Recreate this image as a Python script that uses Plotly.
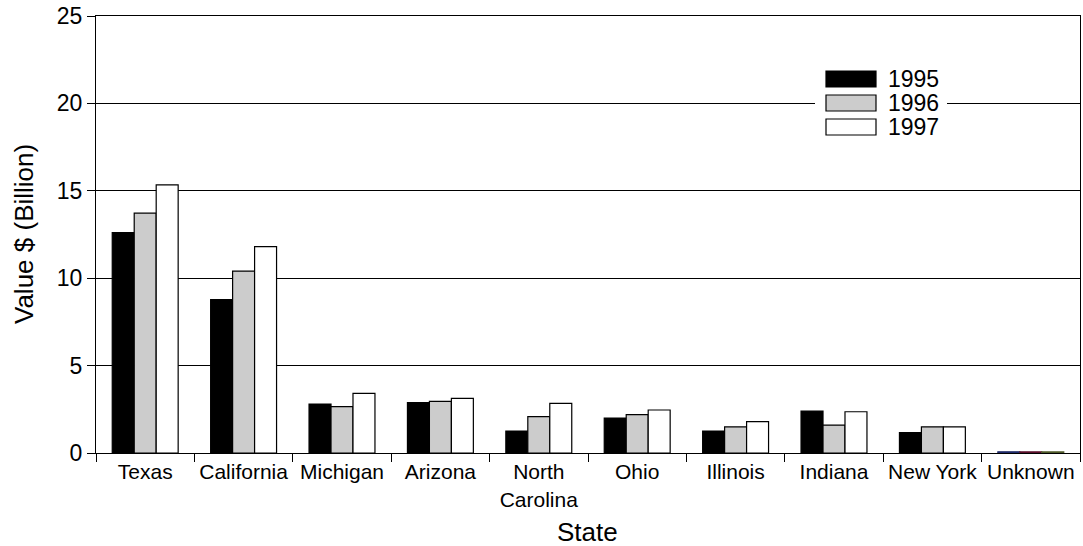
import plotly.graph_objects as go

states = ["Texas", "California", "Michigan", "Arizona", "North<br>Carolina",
          "Ohio", "Illinois", "Indiana", "New York", "Unknown"]
years = ["1995", "1996", "1997"]
v1995 = [12.61, 8.77, 2.80, 2.88, 1.26, 2.00, 1.26, 2.40, 1.16, 0.07]
v1996 = [13.72, 10.41, 2.65, 2.95, 2.08, 2.19, 1.50, 1.60, 1.50, 0.07]
v1997 = [15.34, 11.81, 3.41, 3.13, 2.84, 2.46, 1.79, 2.36, 1.50, 0.07]
series = [v1995, v1996, v1997]
fills = ["#000000", "#cccccc", "#ffffff"]
unknown_edges = ["#1f2a6b", "#5a0e2a", "#4f5a2a"]

FONT = "Liberation Sans, Arial, sans-serif"

# plot area in pixels
PL, PR, PT, PB = 96, 1080, 16, 453
PW, PH = PR - PL, PB - PT


def px(x):
    return (x - PL) / PW


def py(y):
    return (PB - y) / PH


fig = go.Figure()
for name, vals, fill, uedge in zip(years, series, fills, unknown_edges):
    edges = ["#000000"] * (len(vals) - 1) + [uedge]
    fig.add_trace(go.Bar(
        x=states, y=vals, name=name,
        marker=dict(color=fill, line=dict(color=edges, width=1.2)),
        showlegend=False,
    ))

# legend drawn as layout shapes/annotations
leg_x0, leg_x1 = 826, 876
leg_rows = [71, 95, 119]
shapes = [dict(type="rect", xref="paper", yref="paper",
               x0=px(815), x1=px(947), y0=py(146), y1=py(62),
               fillcolor="white", line=dict(width=0), layer="above")]
annotations = []
for name, fill, top in zip(years, fills, leg_rows):
    shapes.append(dict(type="rect", xref="paper", yref="paper",
                       x0=px(leg_x0), x1=px(leg_x1),
                       y0=py(top + 16), y1=py(top),
                       fillcolor=fill, line=dict(color="black", width=1.2),
                       layer="above"))
    annotations.append(dict(xref="paper", yref="paper",
                            x=px(886), y=py(top + 8),
                            text=name, showarrow=False, xanchor="left",
                            yanchor="middle",
                            font=dict(family=FONT, size=23, color="black")))

annotations.append(dict(xref="paper", yref="paper", x=px(587), y=py(532),
                        text="State", showarrow=False, xanchor="center",
                        yanchor="middle",
                        font=dict(family=FONT, size=26, color="black")))
annotations.append(dict(xref="paper", yref="paper", x=px(24), y=py(234),
                        text="Value $ (Billion)", showarrow=False,
                        textangle=-90, xanchor="center", yanchor="middle",
                        font=dict(family=FONT, size=26, color="black")))

fig.update_layout(
    width=1083, height=546,
    margin=dict(l=PL, r=1083 - PR, t=PT, b=546 - PB),
    paper_bgcolor="white", plot_bgcolor="white",
    barmode="group", bargap=0.33, bargroupgap=0,
    font=dict(family=FONT, size=20, color="black"),
    shapes=shapes, annotations=annotations,
    xaxis=dict(
        automargin=False, tickangle=0,
        showline=True, linecolor="black", linewidth=1.2, mirror=True,
        ticks="outside", tickson="boundaries", ticklen=8, tickcolor="black",
        tickfont=dict(size=21), showgrid=False,
    ),
    yaxis=dict(
        automargin=False,
        range=[0, 25], tickvals=[0, 5, 10, 15, 20, 25],
        showline=True, linecolor="black", linewidth=1.2, mirror=True,
        ticks="outside", ticklen=8, tickcolor="black",
        tickfont=dict(size=23),
        showgrid=True, gridcolor="black", gridwidth=1,
        zeroline=False,
    ),
)

fig.write_html("out.html", config={"displayModeBar": False},
               post_script="document.body.style.margin='0';")
